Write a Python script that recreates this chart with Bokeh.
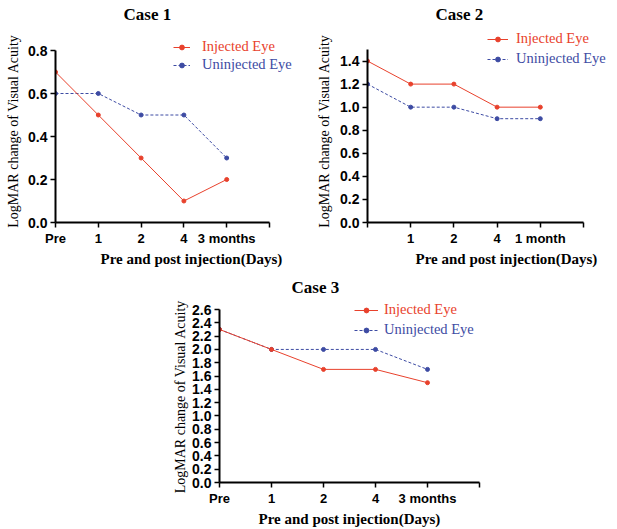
from bokeh.plotting import figure
from bokeh.models import Range1d, FixedTicker, PrintfTickFormatter, Legend, LegendItem, Title, Spacer
from bokeh.layouts import column, row
from bokeh.embed import file_html
from bokeh.resources import INLINE

RED = "#e8412c"
BLUE = "#3d4ba3"

# ---- data ----
case1_labels = ["Pre", "1", "2", "4", "3 months"]
case1_injected = [0.7, 0.5, 0.3, 0.1, 0.2]
case1_uninjected = [0.6, 0.6, 0.5, 0.5, 0.3]
case1_yticks = [0.0, 0.2, 0.4, 0.6, 0.8]

case2_labels = ["", "1", "2", "4", "1 month"]
case2_injected = [1.4, 1.2, 1.2, 1.0, 1.0]
case2_uninjected = [1.2, 1.0, 1.0, 0.9, 0.9]
case2_yticks = [0.0, 0.2, 0.4, 0.6, 0.8, 1.0, 1.2, 1.4]

case3_labels = ["Pre", "1", "2", "4", "3 months"]
case3_injected = [2.3, 2.0, 1.7, 1.7, 1.5]
case3_uninjected = [2.3, 2.0, 2.0, 2.0, 1.7]
case3_yticks = [0.0, 0.2, 0.4, 0.6, 0.8, 1.0, 1.2, 1.4, 1.6, 1.8, 2.0, 2.2, 2.4, 2.6]

Y_LABEL = "LogMAR change of Visual Acuity"
X_LABEL = "Pre and post injection(Days)"

SERIF = "Liberation Serif"
SANS = "Liberation Sans"
NBSP = "\u00a0"


def make_case(title, labels, inj, uninj, ymax, yticks,
              fw, fh, axis_w, axis_h, bl, br, bt, bb,
              title_off, title_standoff, xlabel_off, ylabel_standoff,
              leg_x, leg_y1, leg_y2, glyph_w, standoff):
    n_slots = 5
    p = figure(frame_width=fw, frame_height=fh,
               x_range=Range1d(0, n_slots * fw / axis_w),
               y_range=Range1d(0, ymax * fh / axis_h),
               output_backend="svg", toolbar_location=None,
               min_border_left=bl, min_border_right=br,
               min_border_top=bt, min_border_bottom=bb)
    p.outline_line_color = None
    p.grid.visible = False
    p.background_fill_color = "white"
    p.border_fill_color = "white"

    xs = list(range(len(labels)))
    u_line = p.line(xs, uninj, color=BLUE, line_width=1, line_dash="3 2")
    u_pts = p.scatter(xs, uninj, size=4, color=BLUE)
    i_line = p.line(xs, inj, color=RED, line_width=1)
    i_pts = p.scatter(xs, inj, size=4, color=RED)

    # axes
    for ax in (p.xaxis[0], p.yaxis[0]):
        ax.axis_line_width = 2
        ax.axis_line_color = "black"
        ax.major_tick_line_width = 1.5
        ax.major_tick_line_color = "black"
        ax.major_tick_in = 0
        ax.major_tick_out = 5
        ax.minor_tick_line_color = None
        ax.major_label_text_font = SANS
        ax.major_label_text_font_style = "bold"
        ax.major_label_text_color = "black"
        ax.major_label_standoff = 3

    p.xaxis[0].bounds = (0, n_slots)
    p.xaxis[0].ticker = FixedTicker(ticks=[0, 1, 2, 3, 4, 5])
    overrides = {i: lab for i, lab in enumerate(labels)}
    overrides[5] = ""
    p.xaxis[0].major_label_overrides = overrides
    p.xaxis[0].major_label_text_font_size = "13px"

    p.yaxis[0].bounds = (0, ymax)
    p.yaxis[0].ticker = FixedTicker(ticks=yticks)
    p.yaxis[0].formatter = PrintfTickFormatter(format="%.1f")
    p.yaxis[0].major_label_text_font_size = "14px"
    # trailing no-break spaces centre the label on the axis line rather than the frame
    p.yaxis[0].axis_label = Y_LABEL + NBSP * 4
    p.yaxis[0].axis_label_text_font = SERIF
    p.yaxis[0].axis_label_text_font_style = "normal"
    p.yaxis[0].axis_label_text_font_size = "14px"
    p.yaxis[0].axis_label_text_color = "black"
    p.yaxis[0].axis_label_standoff = ylabel_standoff

    # title
    p.title.text = title
    p.title.align = "left"
    p.title.offset = title_off
    p.title.standoff = title_standoff
    p.title.text_font = SERIF
    p.title.text_font_size = "17px"
    p.title.text_font_style = "bold"
    p.title.text_color = "black"

    # x-axis label
    p.add_layout(Title(text=X_LABEL, align="left", offset=xlabel_off,
                       standoff=0, text_line_height=1.0,
                       text_font=SERIF, text_font_size="15px", text_font_style="bold",
                       text_color="black"), "below")

    # legends (two, so each label takes its series colour)
    for label, rends, color, ly in (("Injected Eye", [i_line, i_pts], RED, leg_y1),
                                    ("Uninjected Eye", [u_line, u_pts], BLUE, leg_y2)):
        leg = Legend(items=[LegendItem(label=label, renderers=rends)], location=(leg_x, ly),
                     padding=0, margin=0, spacing=0, glyph_width=glyph_w, glyph_height=12,
                     label_height=12, label_standoff=standoff,
                     border_line_color=None, background_fill_alpha=0,
                     label_text_font=SERIF, label_text_font_size="14.5px",
                     label_text_color=color)
        p.add_layout(leg, "center")
    return p


p1 = make_case("Case 1", case1_labels, case1_injected, case1_uninjected, 0.8, case1_yticks,
               fw=245, fh=197, axis_w=214, axis_h=172, bl=55, br=12, bt=25, bb=46,
               title_off=68, title_standoff=4, xlabel_off=45, ylabel_standoff=4,
               leg_x=118, leg_y1=167, leg_y2=149, glyph_w=17, standoff=12)
p2 = make_case("Case 2", case2_labels, case2_injected, case2_uninjected, 1.5, case2_yticks,
               fw=243, fh=197, axis_w=216, axis_h=173, bl=55, br=7, bt=25, bb=46,
               title_off=68, title_standoff=4, xlabel_off=48, ylabel_standoff=5,
               leg_x=120, leg_y1=175, leg_y2=155, glyph_w=21, standoff=8)
p3 = make_case("Case 3", case3_labels, case3_injected, case3_uninjected, 2.6, case3_yticks,
               fw=260, fh=186, axis_w=260, axis_h=173, bl=48, br=20, bt=28, bb=46,
               title_off=72, title_standoff=0, xlabel_off=39, ylabel_standoff=1,
               leg_x=135, leg_y1=164, leg_y2=144, glyph_w=24, standoff=6)

layout = column(row(p1, p2), row(Spacer(width=170, height=10), p3))

open("out.html", "w").write(file_html(layout, INLINE))
